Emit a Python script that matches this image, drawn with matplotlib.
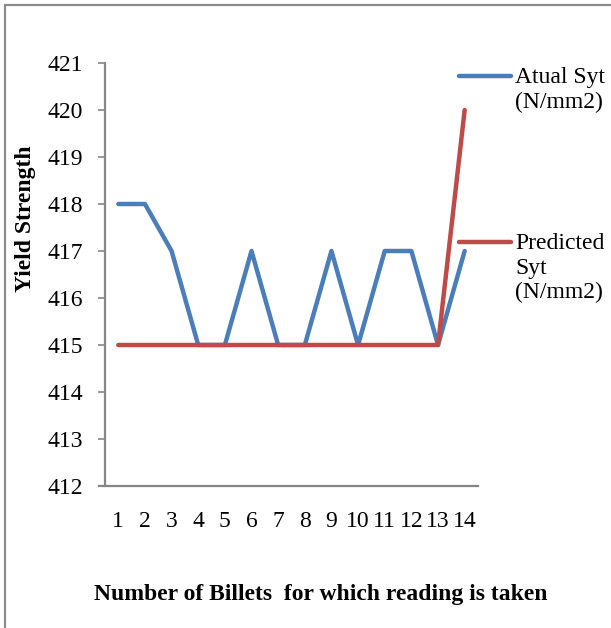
import matplotlib
matplotlib.use("Agg")
import matplotlib.pyplot as plt
from matplotlib.patches import Rectangle

billets = list(range(1, 15))
actual_syt = [418, 418, 417, 415, 415, 417, 415, 415, 417, 415, 417, 417, 415, 417]
predicted_syt = [415, 415, 415, 415, 415, 415, 415, 415, 415, 415, 415, 415, 415, 420]
y_ticks = list(range(412, 422))

plt.rcParams['font.family'] = ['Liberation Serif', 'DejaVu Serif']

fig = plt.figure(figsize=(6.11, 6.28), dpi=100)
ax = fig.add_axes([0.1718, 0.2261, 0.6105, 0.6736])

# outer chart border (only top/left visible in frame)
fig.patches.append(Rectangle((0.008, -0.05), 1.2, 0.992 + 0.05, transform=fig.transFigure,
                             fill=False, edgecolor='#8c8c8c', linewidth=1.6))

ax.plot(billets, actual_syt, color='#4A7EBB', linewidth=3.2, label='Atual Syt\n(N/mm2)',
        solid_joinstyle='round', solid_capstyle='round')
ax.plot(billets, predicted_syt, color='#BE4B48', linewidth=3.2, label='Predicted\nSyt\n(N/mm2)',
        solid_joinstyle='round', solid_capstyle='round')

ax.set_xlim(0.5, 14.5)
ax.set_ylim(412, 421)
ax.set_yticks(y_ticks)
ax.set_xticks(billets)
ax.tick_params(axis='y', length=5, width=1.2, color='#868686', labelsize=17, pad=11)
ax.tick_params(axis='x', length=0, labelsize=17, pad=18)

for side in ['top', 'right']:
    ax.spines[side].set_visible(False)
for side in ['left', 'bottom']:
    ax.spines[side].set_color('#868686')
    ax.spines[side].set_linewidth(1.6)
ax.spines['bottom'].set_bounds(0.28, 14.5)

fig.text(0.041, 0.652, 'Yield Strength', rotation=90, ha='center', va='center',
         fontsize=17, fontweight='bold')
fig.text(0.525, 0.053, 'Number of Billets  for which reading is taken', ha='center',
         va='center', fontsize=17, fontweight='bold')

# legend entries placed to the right of the plot
for y_line, color, text in [(0.879, '#4A7EBB', 'Atual Syt\n(N/mm2)'),
                            (0.615, '#BE4B48', 'Predicted\nSyt\n(N/mm2)')]:
    fig.add_artist(plt.Line2D([0.752, 0.836], [y_line, y_line], transform=fig.transFigure,
                              color=color, linewidth=3.2, solid_capstyle='round'))
    fig.text(0.843, y_line + 0.014, text, ha='left', va='top', fontsize=17, linespacing=1.22)

fig.savefig('out.png', dpi=100)
